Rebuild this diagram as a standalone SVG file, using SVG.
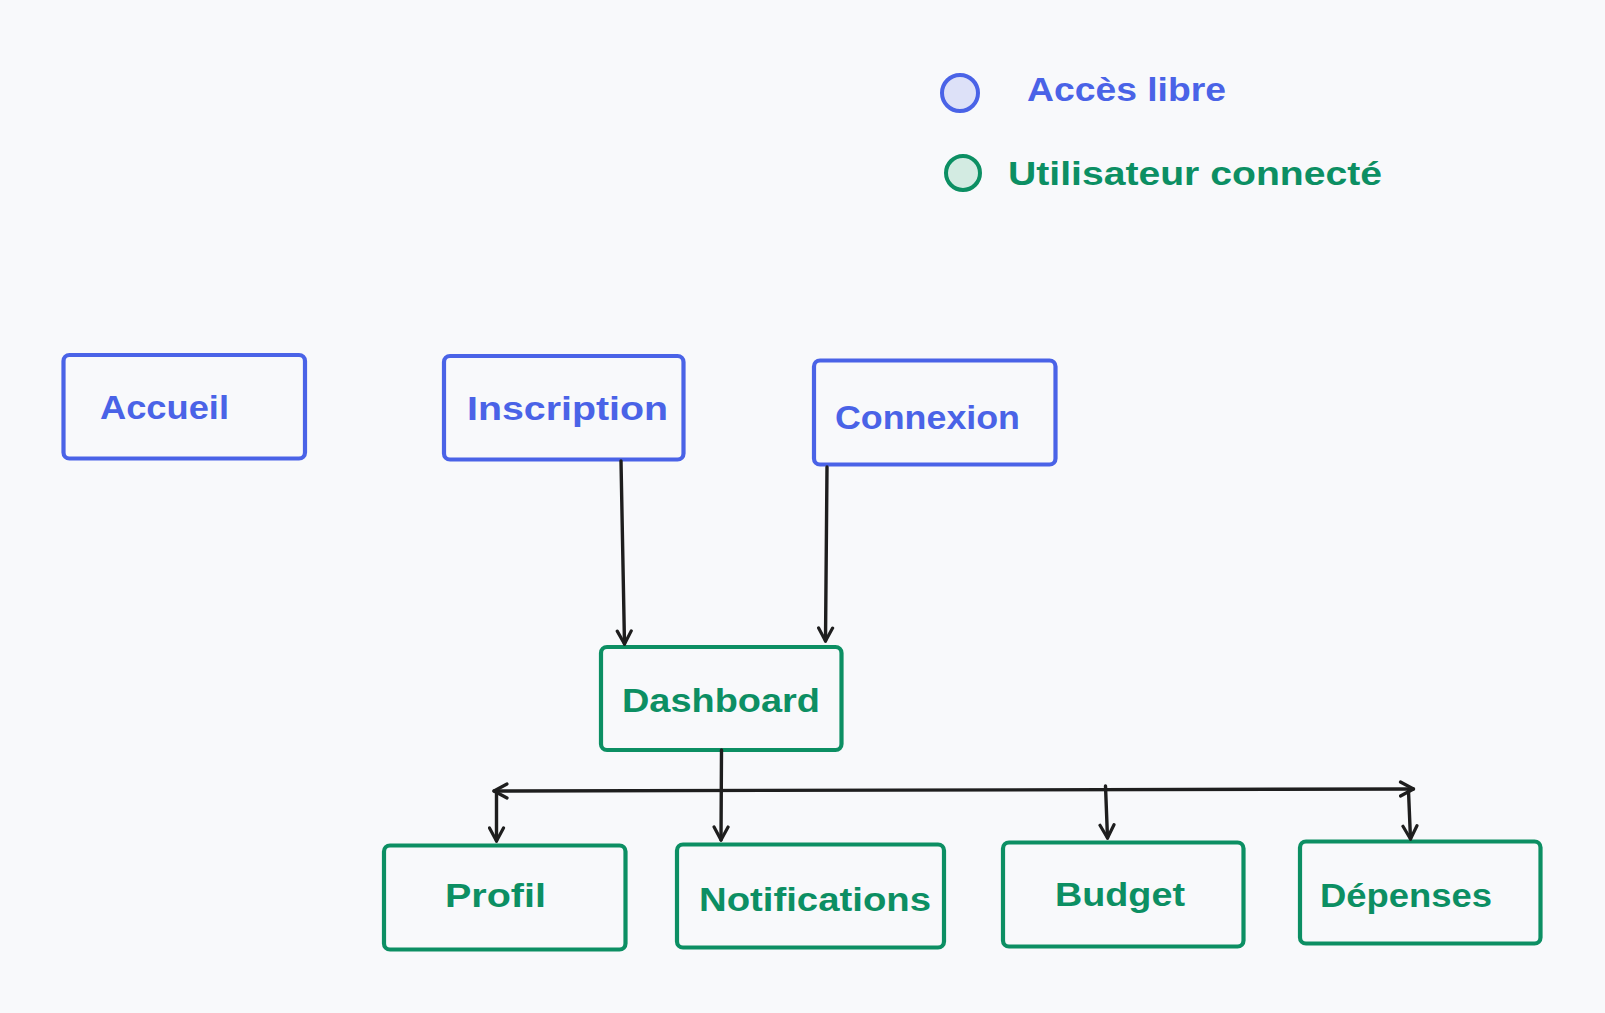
<svg xmlns="http://www.w3.org/2000/svg" width="1605" height="1013" viewBox="0 0 1605 1013">
<defs>
<style>
.bg{fill:#f8f9fb}
.nb{fill:none;stroke:#4a63e7;stroke-width:4.2}
.ng{fill:none;stroke:#0c8f63;stroke-width:4.2}
.tb{fill:#4a63e7;font-family:"Liberation Sans",Arial,sans-serif;font-weight:bold;font-size:33px}
.tg{fill:#0c8f63;font-family:"Liberation Sans",Arial,sans-serif;font-weight:bold;font-size:33px}
.c{fill:none;stroke:#1e1e1e;stroke-width:3.4;stroke-linecap:round}
</style>
<marker id="ah" viewBox="0 0 18 18" refX="15" refY="9" markerWidth="18" markerHeight="18" markerUnits="userSpaceOnUse" orient="auto-start-reverse">
<path d="M2,2 L15,9 L2,16" fill="none" stroke="#1e1e1e" stroke-width="3.2" stroke-linecap="round" stroke-linejoin="round"/>
</marker>
</defs>
<rect class="bg" x="0" y="0" width="1605" height="1013"/>
<g id="legend">
<circle cx="960" cy="93" r="18" fill="#dde1f8" stroke="#4a63e7" stroke-width="4"/>
<text class="tb" x="1027" y="101" textLength="199" lengthAdjust="spacingAndGlyphs">Accès libre</text>
<circle cx="963" cy="173" r="17" fill="#d3ebe2" stroke="#0c8f63" stroke-width="4"/>
<text class="tg" x="1008" y="185" textLength="374" lengthAdjust="spacingAndGlyphs">Utilisateur connecté</text>
</g>
<g id="accueil">
<rect class="nb" x="63.5" y="355" width="241.5" height="103.5" rx="6"/>
<text class="tb" x="100" y="419" textLength="129" lengthAdjust="spacingAndGlyphs">Accueil</text>
</g>
<g id="inscription">
<rect class="nb" x="444" y="356" width="239.5" height="103.5" rx="6"/>
<text class="tb" x="467" y="420" textLength="201" lengthAdjust="spacingAndGlyphs">Inscription</text>
</g>
<g id="connexion">
<rect class="nb" x="814" y="360.5" width="241.5" height="104" rx="6"/>
<text class="tb" x="835" y="429" textLength="185" lengthAdjust="spacingAndGlyphs">Connexion</text>
</g>
<g id="dashboard">
<rect class="ng" x="601" y="647" width="240.5" height="103" rx="6"/>
<text class="tg" x="622" y="712" textLength="198" lengthAdjust="spacingAndGlyphs">Dashboard</text>
</g>
<g id="profil">
<rect class="ng" x="384" y="845.5" width="241.5" height="104" rx="6"/>
<text class="tg" x="445" y="907" textLength="101" lengthAdjust="spacingAndGlyphs">Profil</text>
</g>
<g id="notifications">
<rect class="ng" x="677" y="844.5" width="267" height="103" rx="6"/>
<text class="tg" x="699" y="911" textLength="232" lengthAdjust="spacingAndGlyphs">Notifications</text>
</g>
<g id="budget">
<rect class="ng" x="1003" y="842.5" width="240.5" height="104" rx="6"/>
<text class="tg" x="1055" y="906" textLength="130" lengthAdjust="spacingAndGlyphs">Budget</text>
</g>
<g id="depenses">
<rect class="ng" x="1300" y="841.5" width="240.5" height="102" rx="6"/>
<text class="tg" x="1320" y="907" textLength="172" lengthAdjust="spacingAndGlyphs">Dépenses</text>
</g>
<g id="connectors">
<path class="c" d="M621,461 L624.5,644" marker-end="url(#ah)"/>
<path class="c" d="M827,467 L825.5,641" marker-end="url(#ah)"/>
<path class="c" d="M721.5,750 L721,840" marker-end="url(#ah)"/>
<path class="c" d="M494,791 L1413.5,789" marker-start="url(#ah)" marker-end="url(#ah)"/>
<path class="c" d="M496.5,791 L496.5,841" marker-end="url(#ah)"/>
<path class="c" d="M1105.5,786 L1107.5,838" marker-end="url(#ah)"/>
<path class="c" d="M1408.5,791 L1410.5,839" marker-end="url(#ah)"/>
</g>
</svg>
